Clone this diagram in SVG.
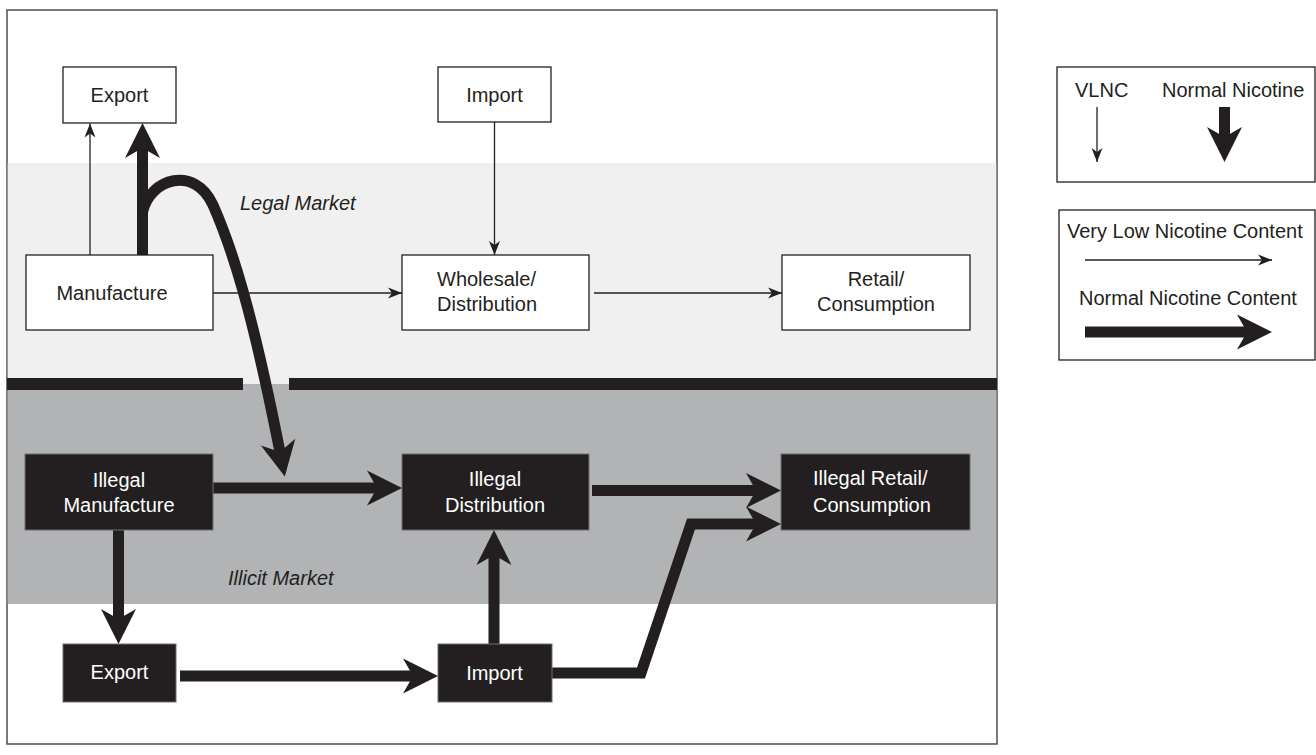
<svg xmlns="http://www.w3.org/2000/svg" width="1316" height="755" viewBox="0 0 1316 755">
<style>
.t{font-family:"Liberation Sans",Arial,sans-serif;font-size:20px;fill:#231f20}
.w{fill:#ffffff}
.it{font-style:italic}
.mid{text-anchor:middle}
.box{fill:#ffffff;stroke:#231f20;stroke-width:1.3}
.bbox{fill:#231f20;stroke:#6d6e71;stroke-width:1}
.thin{fill:none;stroke:#231f20;stroke-width:1.3;marker-end:url(#mThin)}
.thick{fill:none;stroke:#231f20;stroke-width:11;stroke-linejoin:miter;marker-end:url(#mThick)}
</style>
<defs>
<marker id="mThin" markerUnits="userSpaceOnUse" viewBox="-15 -7 16 14" refX="0" refY="0" markerWidth="16" markerHeight="14" orient="auto">
<path d="M0,0 L-14,-5.5 L-10,0 L-14,5.5 Z" fill="#231f20"/>
</marker>
<marker id="mThick" markerUnits="userSpaceOnUse" viewBox="-36 -19 37 38" refX="-25" refY="0" markerWidth="37" markerHeight="38" orient="auto">
<path d="M0,0 L-35,-17.5 L-25,0 L-35,17.5 Z" fill="#231f20"/>
</marker>
</defs>

<g id="background">
<rect x="7" y="10" width="990" height="734" fill="#ffffff" stroke="#4d4d4d" stroke-width="1.5"/>
<rect x="7.75" y="163" width="988.5" height="221" fill="#f0f0f0"/>
<rect x="7.75" y="384" width="988.5" height="220" fill="#b2b3b5"/>
<rect x="7" y="378" width="236" height="12" fill="#231f20"/>
<rect x="289" y="378" width="708" height="12" fill="#231f20"/>
<text class="t it" x="240" y="210" font-size="19">Legal Market</text>
<text class="t it" x="228" y="585" font-size="19">Illicit Market</text>
</g>

<g id="connectors">
<path class="thin" d="M90,255 L90,123.5"/>
<path class="thin" d="M494.5,122 L494.5,255"/>
<path class="thin" d="M213,293 L402,293"/>
<path class="thin" d="M594,293 L782,293"/>
<path class="thick" d="M142.5,255 L142.5,148"/>
<path class="thick" d="M142.5,212 C150,178 195,165 213,205 C232,248 252,310 280,452"/>
<path class="thick" d="M213,488 L377,488"/>
<path class="thick" d="M592,490.5 L756,490.5"/>
<path class="thick" d="M552,673 L641,673 L691,524 L756,524"/>
<path class="thick" d="M118.5,530 L118.5,619"/>
<path class="thick" d="M180,676 L413,676"/>
<path class="thick" d="M494,644 L494,555"/>
</g>

<g id="export-legal">
<rect class="box" x="63" y="67" width="113" height="56"/>
<text class="t mid" x="119.5" y="102">Export</text>
</g>
<g id="import-legal">
<rect class="box" x="438" y="67" width="113" height="55"/>
<text class="t mid" x="494.5" y="102">Import</text>
</g>
<g id="manufacture">
<rect class="box" x="26" y="255" width="187" height="75"/>
<text class="t mid" x="112" y="300">Manufacture</text>
</g>
<g id="wholesale">
<rect class="box" x="402" y="255" width="187" height="75"/>
<text class="t" x="437" y="286">Wholesale/</text>
<text class="t" x="437" y="311">Distribution</text>
</g>
<g id="retail">
<rect class="box" x="782" y="255" width="188" height="75"/>
<text class="t mid" x="876" y="286">Retail/</text>
<text class="t mid" x="876" y="311">Consumption</text>
</g>

<g id="illegal-manufacture">
<rect class="bbox" x="25" y="454" width="188" height="76"/>
<text class="t w mid" x="119" y="487">Illegal</text>
<text class="t w mid" x="119" y="512">Manufacture</text>
</g>
<g id="illegal-distribution">
<rect class="bbox" x="402" y="454" width="187" height="76"/>
<text class="t w mid" x="495" y="486">Illegal</text>
<text class="t w mid" x="495" y="512">Distribution</text>
</g>
<g id="illegal-retail">
<rect class="bbox" x="781" y="454" width="189" height="76"/>
<text class="t w" x="813" y="485">Illegal Retail/</text>
<text class="t w" x="813" y="512">Consumption</text>
</g>
<g id="export-illicit">
<rect class="bbox" x="63" y="644" width="113" height="58"/>
<text class="t w mid" x="119.5" y="679">Export</text>
</g>
<g id="import-illicit">
<rect class="bbox" x="438" y="644" width="114" height="58"/>
<text class="t w mid" x="494.5" y="680">Import</text>
</g>

<g id="legend-vertical">
<rect class="box" x="1057" y="67" width="258" height="115"/>
<text class="t" x="1075" y="97">VLNC</text>
<text class="t" x="1162" y="97">Normal Nicotine</text>
<path class="thin" d="M1097,107 L1097,162"/>
<path class="thick" d="M1224.5,107 L1224.5,137"/>
</g>
<g id="legend-horizontal">
<rect class="box" x="1059" y="210" width="256" height="150"/>
<text class="t" x="1067" y="238">Very Low Nicotine Content</text>
<path class="thin" d="M1085,260 L1272,260"/>
<text class="t" x="1079" y="305">Normal Nicotine Content</text>
<path class="thick" d="M1085,332 L1247,332"/>
</g>
</svg>
